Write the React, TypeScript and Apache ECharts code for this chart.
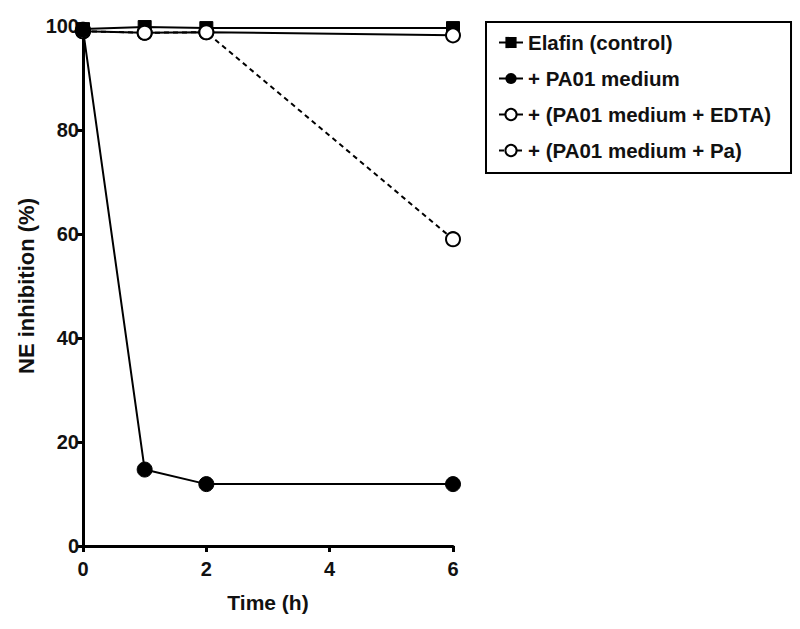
import React, { useEffect, useRef } from "react";
import * as echarts from "echarts";

const seriesNames = [
  "Elafin (control)",
  "+ PA01 medium",
  "+ (PA01 medium + EDTA)",
  "+ (PA01 medium + Pa)",
];
const times = [0, 1, 2, 6];
const elafin = [99.4, 99.8, 99.6, 99.6];
const pa01 = [99.3, 14.7, 11.9, 11.9];
const edta = [99, 98.7, 98.8, 98.2];
const pa = [99, 98.7, 98.8, 59];
const xTicks = [0, 2, 4, 6];
const yTicks = [0, 20, 40, 60, 80, 100];

const FONT = "Liberation Sans, Arial, sans-serif";

export default function App() {
  const ref = useRef<HTMLDivElement>(null);
  useEffect(() => {
    const chart = echarts.init(ref.current!, undefined, { renderer: "svg" });
    const mk = (vals: number[]) => times.map((t, i) => [t, vals[i]]);
    chart.setOption({
      animation: false,
      backgroundColor: "#fff",
      grid: { left: 83, right: 347, top: 26, bottom: 83 },
      xAxis: {
        type: "value",
        min: xTicks[0],
        max: xTicks[xTicks.length - 1],
        interval: 2,
        name: "Time (h)",
        nameLocation: "middle",
        nameGap: 46,
        nameTextStyle: { fontFamily: FONT, fontWeight: "bold", fontSize: 21, color: "#111" },
        axisLine: { lineStyle: { color: "#000", width: 3 } },
        axisTick: { length: 6, lineStyle: { color: "#000", width: 3 } },
        axisLabel: { fontFamily: FONT, fontWeight: "bold", fontSize: 20, color: "#111", margin: 13 },
        splitLine: { show: false },
      },
      yAxis: {
        type: "value",
        min: yTicks[0],
        max: yTicks[yTicks.length - 1],
        interval: 20,
        name: "NE inhibition (%)",
        nameLocation: "middle",
        nameGap: 46,
        nameTextStyle: { fontFamily: FONT, fontWeight: "bold", fontSize: 22, color: "#111" },
        axisLine: { show: true, lineStyle: { color: "#000", width: 3 } },
        axisTick: { show: true, length: 6, lineStyle: { color: "#000", width: 3 } },
        axisLabel: { fontFamily: FONT, fontWeight: "bold", fontSize: 20, color: "#111", margin: 4 },
        splitLine: { show: false },
      },
      legend: {
        orient: "vertical",
        left: 486,
        top: 22,
        padding: [10, 20, 12, 12],
        itemGap: 15,
        itemWidth: 24,
        itemHeight: 14,
        borderColor: "#000",
        borderWidth: 2,
        textStyle: { fontFamily: FONT, fontWeight: "bold", fontSize: 20.5, color: "#111" },
        data: seriesNames,
      },
      series: [
        {
          name: seriesNames[0],
          type: "line",
          data: mk(elafin),
          symbol: "rect",
          symbolSize: 13,
          z: 2,
          lineStyle: { color: "#000", width: 2 },
          itemStyle: { color: "#000", borderColor: "#000" },
        },
        {
          name: seriesNames[1],
          type: "line",
          data: mk(pa01),
          symbol: "circle",
          symbolSize: 15,
          z: 4,
          lineStyle: { color: "#000", width: 2 },
          itemStyle: { color: "#000", borderColor: "#000" },
        },
        {
          name: seriesNames[2],
          type: "line",
          data: mk(edta),
          symbol: "circle",
          symbolSize: 14,
          z: 3,
          lineStyle: { color: "#000", width: 2 },
          itemStyle: { color: "#fff", borderColor: "#000", borderWidth: 2 },
        },
        {
          name: seriesNames[3],
          type: "line",
          data: mk(pa),
          symbol: "circle",
          symbolSize: 14,
          z: 3,
          lineStyle: { color: "#000", width: 2, type: [5, 4] },
          itemStyle: { color: "#fff", borderColor: "#000", borderWidth: 2 },
        },
      ],
    });
    return () => chart.dispose();
  }, []);
  return <div ref={ref} style={{ width: 800, height: 629, position: "absolute", left: 0, top: 0 }} />;
}
